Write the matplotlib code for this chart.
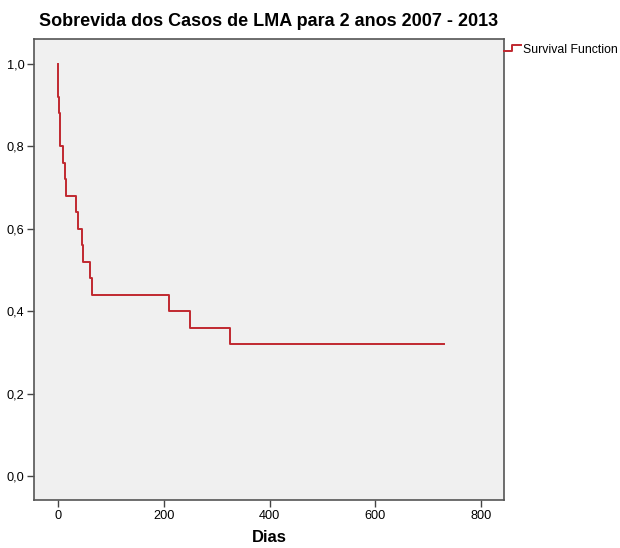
import matplotlib
matplotlib.use("Agg")
import matplotlib.pyplot as plt
from matplotlib.lines import Line2D
from matplotlib.legend_handler import HandlerBase

plt.rcParams['font.family'] = ['Liberation Sans', 'DejaVu Sans']

# Kaplan-Meier step data (days, survival)
times = [0, 1, 3, 5, 10, 14, 16, 35, 38, 45, 47, 60, 64, 210, 250, 325, 730]
survival = [1.00, 0.92, 0.88, 0.80, 0.76, 0.72, 0.68, 0.64, 0.60, 0.56, 0.52,
            0.48, 0.44, 0.40, 0.36, 0.32, 0.32]
xticks = [0, 200, 400, 600, 800]
yticks = [0.0, 0.2, 0.4, 0.6, 0.8, 1.0]
ytick_labels = ["0,0", "0,2", "0,4", "0,6", "0,8", "1,0"]

color = "#c0282f"

fig = plt.figure(figsize=(6.2, 5.48), dpi=100)
ax = fig.add_axes([34/620, 1 - 500/548, (504-34)/620, (500-39)/548])
ax.set_facecolor("#f0f0f0")

ax.step(times, survival, where="post", color=color, lw=1.4, label="Survival Function")

ax.set_xlim(-45, 843)
ax.set_ylim(-0.057, 1.06)
ax.set_xticks(xticks)
ax.set_xticklabels([str(t) for t in xticks], fontsize=9.2)
ax.set_yticks(yticks)
ax.set_yticklabels(ytick_labels, fontsize=9.2)
ax.tick_params(direction="out", length=5, width=1, color="#444444", pad=2)
for s in ax.spines.values():
    s.set_color("#555555")
    s.set_linewidth(1.2)

ax.set_xlabel("Dias", fontsize=12, fontweight="bold", labelpad=6)
ax.set_title("Sobrevida dos Casos de LMA para 2 anos 2007 - 2013",
             fontsize=13, fontweight="bold", pad=9)


class StepHandler(HandlerBase):
    def create_artists(self, legend, orig_handle, xdescent, ydescent,
                       width, height, fontsize, trans):
        xs = [0, width * 0.45, width * 0.45, width]
        ys = [height * 0.25, height * 0.25, height * 0.9, height * 0.9]
        ln = Line2D([x - xdescent for x in xs], [y - ydescent for y in ys],
                    color=color, lw=1.4, transform=trans)
        return [ln]


h = Line2D([], [], color=color)
ax.legend([h], ["Survival Function"], handler_map={Line2D: StepHandler()},
          loc="upper left", bbox_to_anchor=(0.99, 1.0), frameon=False,
          fontsize=8.8, handlelength=1.4, handletextpad=0.15, borderaxespad=0)

fig.savefig("out.png", dpi=100, facecolor="white")
